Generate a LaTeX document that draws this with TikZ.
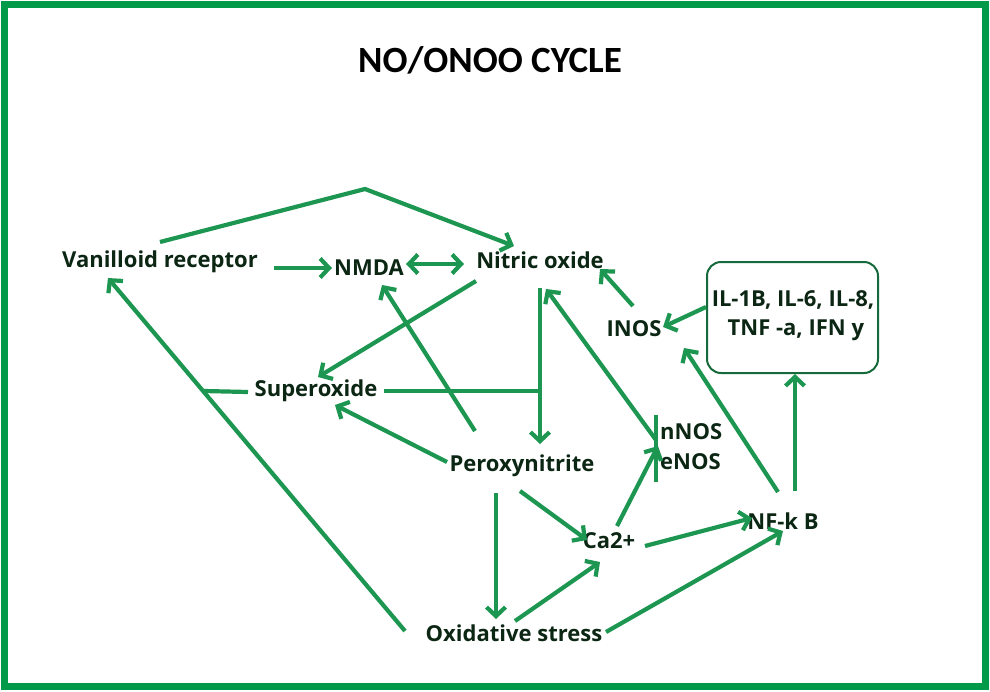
\documentclass[tikz,border=0pt]{standalone}
\usepackage{fontspec}
\setmainfont{Open Sans}
\newfontfamily\titlefont{Carlito}
\usetikzlibrary{arrows.meta}
\definecolor{framec}{RGB}{0,154,73}
\definecolor{arrc}{RGB}{28,150,80}
\definecolor{txtc}{RGB}{12,38,20}
\definecolor{boxc}{RGB}{22,105,58}
\begin{document}
\begin{tikzpicture}[x=1pt,y=-1pt,
  lbl/.style={font=\fontsize{22}{29}\selectfont\bfseries, text=txtc, inner sep=0pt},
  con/.style={draw=arrc, line width=4.2pt, -{Straight Barb[length=9pt,width=19pt]}},
  seg/.style={draw=arrc, line width=4.2pt},
  dual/.style={draw=arrc, line width=4.2pt, {Straight Barb[length=9pt,width=19pt]}-{Straight Barb[length=9pt,width=19pt]}},
  ]
\useasboundingbox (0,0) rectangle (990,691);
\draw[framec, line width=7pt] (4.5,4.5) rectangle (985.5,686.5);

\node[font=\titlefont\fontsize{37}{40}\selectfont\bfseries, text=black, inner sep=0pt] (title) at (490,60) {NO/ONOO CYCLE};

% text nodes
\node[lbl] (van) at (160,262) {Vanilloid receptor};
\node[lbl] (nmda) at (369,268) {NMDA};
\node[lbl] (no) at (540,260) {Nitric oxide};
\node[lbl] (inos) at (634,329) {INOS};
\node[lbl, align=center] (il) at (793,316) {IL-1B, IL-6, IL-8,\\ \ TNF -a, IFN y};
\node[draw=boxc, line width=2pt, rounded corners=14pt, minimum width=171pt, minimum height=111pt] (ilbox) at (792.5,317.5) {};
\node[lbl] (sup) at (316,391) {Superoxide};
\node[lbl] (per) at (522,466) {Peroxynitrite};
\node[lbl, anchor=west] (nnos) at (660,432) {nNOS};
\node[lbl, anchor=west] (enos) at (660,462) {eNOS};
\node[lbl] (ca) at (609,541) {Ca2+};
\node[lbl] (nfkb) at (783,521) {NF-k B};
\node[lbl] (ox) at (514,633) {Oxidative stress};

% junction coordinates
\coordinate (peak) at (365,189);
\coordinate (joinNO) at (540,391);
\coordinate (joinVan) at (204,391);
\coordinate (barTop) at (656,415);
\coordinate (barBot) at (656,482);

% connectors
\draw[con] (160,242) -- (peak) -- (514,246);
\draw[con] (274,268) -- (332,268);
\draw[dual] (406,264) -- (464,264);
\draw[con] (476,281) -- (318,377);
\draw[con] (475,431) -- (382,285);
\draw[seg] (384,391) -- (joinNO);
\draw[con] (540,288) -- (540,444);
\draw[con] (447,462) -- (335,405);
\draw[seg] (barTop) -- (barBot);
\draw[con] (656,440) -- (546,289);
\draw[con] (633,306) -- (600,269);
\draw[con] (706,307) -- (663,327);
\draw[con] (778,492) -- (684,348);
\draw[con] (795,491) -- (795,374);
\draw[con] (617,526) -- (658,446);
\draw[con] (520,491) -- (587,540);
\draw[con] (496,493) -- (496,619);
\draw[con] (515,621) -- (600,562);
\draw[con] (645,546) -- (752,518);
\draw[con] (606,632) -- (783,531);
\draw[con] (405,631) -- (108,278);
\draw[seg] (248,392) -- (joinVan);
\end{tikzpicture}
\end{document}
